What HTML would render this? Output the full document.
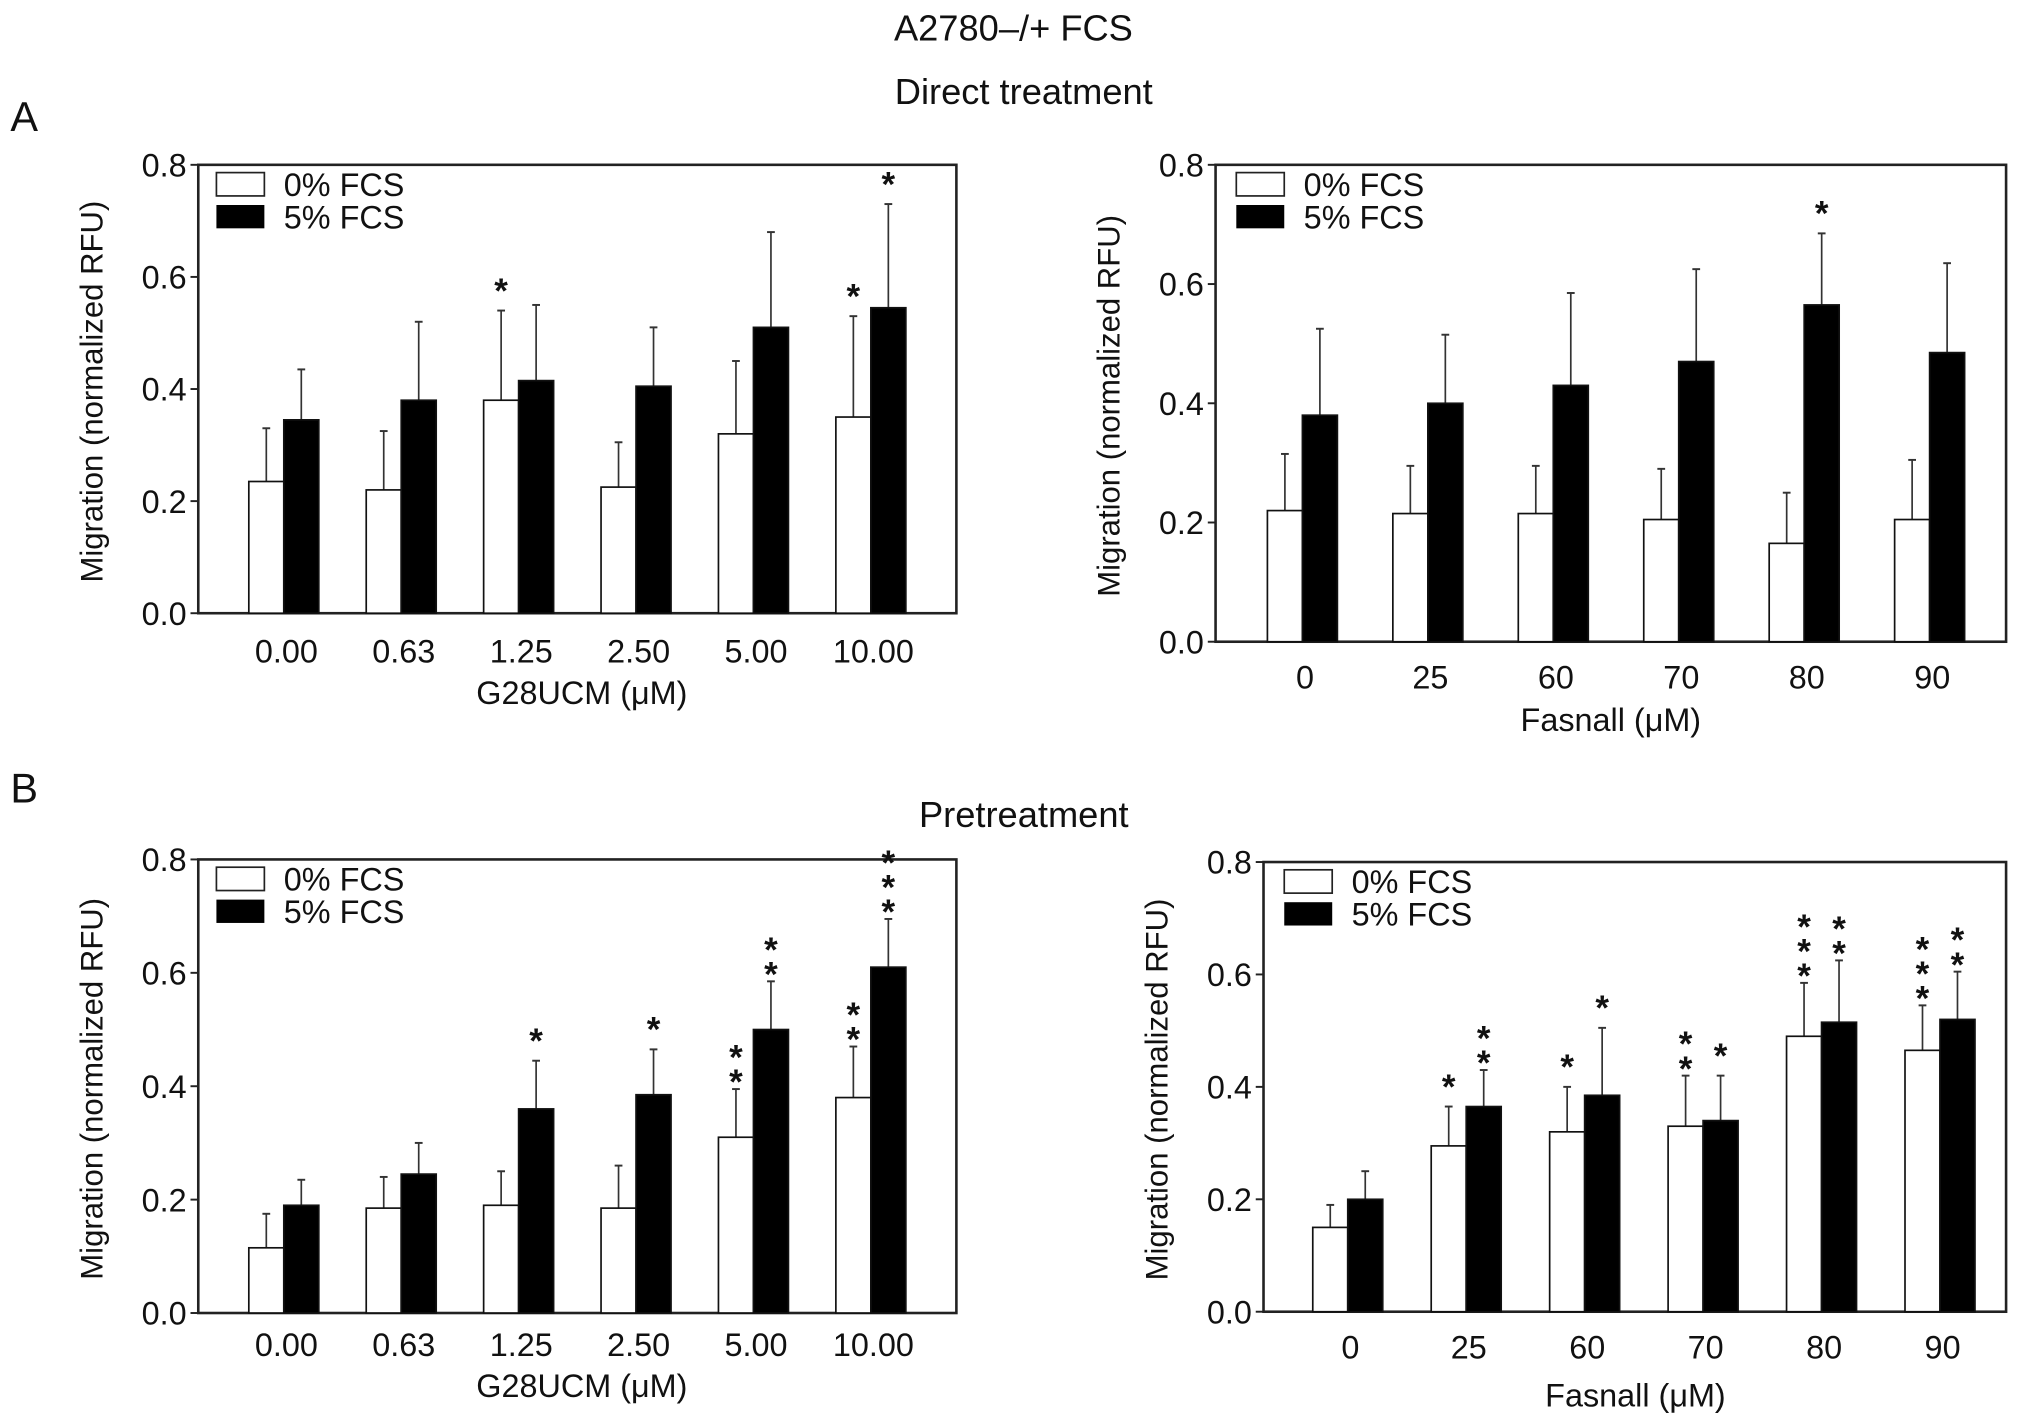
<!DOCTYPE html>
<html><head><meta charset="utf-8">
<style>
html,body{margin:0;padding:0;background:#fff;}
svg{display:block;}
text{font-family:"Liberation Sans",Arial,sans-serif;fill:#111;}
</style></head>
<body>
<svg id="fig" width="2032" height="1426" viewBox="0 0 1568 1100" xmlns="http://www.w3.org/2000/svg">
<text x="782" y="31" font-size="28" text-anchor="middle">A2780–/+ FCS</text>
<text x="790" y="80" font-size="28" text-anchor="middle">Direct treatment</text>
<text x="8" y="101" font-size="32">A</text>
<text x="8" y="619" font-size="32">B</text>
<text x="790" y="638" font-size="28" text-anchor="middle">Pretreatment</text>
</svg>
<script>
const catsG = ["0.00","0.63","1.25","2.50","5.00","10.00"];
const catsF = ["0","25","60","70","80","90"];
const yTicks = ["0.0","0.2","0.4","0.6","0.8"];
const aLeftWhite = [0.235,0.22,0.38,0.225,0.32,0.35];
const aLeftWhiteErr = [0.33,0.325,0.54,0.305,0.45,0.53];
const aLeftBlack = [0.345,0.38,0.415,0.405,0.51,0.545];
const aLeftBlackErr = [0.435,0.52,0.55,0.51,0.68,0.73];
const aLeftWhiteStars = [0,0,1,0,0,1];
const aLeftBlackStars = [0,0,0,0,0,1];
const aRightWhite = [0.22,0.215,0.215,0.205,0.165,0.205];
const aRightWhiteErr = [0.315,0.295,0.295,0.29,0.25,0.305];
const aRightBlack = [0.38,0.40,0.43,0.47,0.565,0.485];
const aRightBlackErr = [0.525,0.515,0.585,0.625,0.685,0.635];
const aRightWhiteStars = [0,0,0,0,0,0];
const aRightBlackStars = [0,0,0,0,1,0];
const bLeftWhite = [0.115,0.185,0.19,0.185,0.31,0.38];
const bLeftWhiteErr = [0.175,0.24,0.25,0.26,0.395,0.47];
const bLeftBlack = [0.19,0.245,0.36,0.385,0.50,0.61];
const bLeftBlackErr = [0.235,0.30,0.445,0.465,0.585,0.695];
const bLeftWhiteStars = [0,0,0,0,2,2];
const bLeftBlackStars = [0,0,1,1,2,3];
const bRightWhite = [0.15,0.295,0.32,0.33,0.49,0.465];
const bRightWhiteErr = [0.19,0.365,0.40,0.42,0.585,0.545];
const bRightBlack = [0.20,0.365,0.385,0.34,0.515,0.52];
const bRightBlackErr = [0.25,0.43,0.505,0.42,0.625,0.605];
const bRightWhiteStars = [0,1,1,2,3,3];
const bRightBlackStars = [0,2,1,1,2,2];

const NS="http://www.w3.org/2000/svg";
const svg=document.getElementById('fig');
function mk(tag,attrs,parent){const e=document.createElementNS(NS,tag);for(const k in attrs)e.setAttribute(k,attrs[k]);(parent||svg).appendChild(e);return e;}

function panel(id,cfg){
  const g=mk('g',{});
  
  
  const yS=v=>cfg.y0+(cfg.y1-cfg.y0)*(v/0.8);
  const xC=i=>cfg.c0+i*cfg.step;
  const fr=mk('rect',{x:cfg.x0,y:cfg.y1,width:cfg.x1-cfg.x0,height:cfg.y0-cfg.y1,fill:'none',stroke:'#222','stroke-width':2},g);
  
  
  yTicks.forEach(t=>{
    const y=yS(parseFloat(t));
    mk('line',{x1:cfg.x0-6,x2:cfg.x0,y1:y,y2:y,stroke:'#222','stroke-width':1.5},g);
    const tx=mk('text',{x:cfg.x0-9,y:y+9,'font-size':25,'text-anchor':'end'},g);
    tx.textContent=t;
    
    
  });
  const yt=mk('text',{x:0,y:0,'font-size':24,'text-anchor':'middle',transform:`translate(${cfg.x0-74},${(cfg.y0+cfg.y1)/2+2}) rotate(-90)`},g);
  yt.textContent='Migration (normalized RFU)';
  
  
  cfg.cats.forEach((c,i)=>{
    const t=mk('text',{x:xC(i)+2,y:cfg.labY,'font-size':25,'text-anchor':'middle'},g);
    t.textContent=c;
    
    
  });
  const xt=mk('text',{x:cfg.titleX,y:cfg.titleY,'font-size':25,'text-anchor':'middle'},g);
  xt.textContent=cfg.xtitle;
  
  
  const bw=27;
  function series(vals,errs,stars,off,fill,name){
    vals.forEach((v,i)=>{
      const x=xC(i)+off;
      const cx=x+bw/2;
      const ey=yS(errs[i]);
      mk('line',{x1:cx,x2:cx,y1:yS(v),y2:ey,stroke:'#333','stroke-width':1.3},g);
      mk('line',{x1:cx-3,x2:cx+3,y1:ey,y2:ey,stroke:'#333','stroke-width':1.5},g);
      const r=mk('rect',{x:x,y:yS(v),width:bw,height:cfg.y0-yS(v),fill:fill,stroke:'#111','stroke-width':1.3},g);
      
      
      for(let s=0;s<stars[i];s++){
        const st=mk('text',{x:cx,y:ey-6-s*19+(stars[i]>1?10:0),'font-size':27,'font-weight':'bold','text-anchor':'middle'},g);
        st.textContent='*';
        
        
      }
    });
  }
  series(cfg.w,cfg.we,cfg.ws,-bw,'#fff','bar-0pct-fcs');
  series(cfg.b,cfg.be,cfg.bs,0,'#000','bar-5pct-fcs');
  const lx=cfg.x0+cfg.legDx, ly=cfg.y1+6;
  const l1=mk('rect',{x:lx,y:ly,width:37,height:18,fill:'#fff',stroke:'#222','stroke-width':1.3},g);
  
  
  const l2=mk('rect',{x:lx,y:ly+25,width:37,height:18,fill:'#000'},g);
  
  
  const t1=mk('text',{x:lx+52,y:ly+18,'font-size':25},g);t1.textContent='0% FCS';
  
  
  const t2=mk('text',{x:lx+52,y:ly+43,'font-size':25},g);t2.textContent='5% FCS';
  
  
}
panel('panel-a-left-chart',{x0:153,x1:738,y0:473,y1:127,c0:219,step:90.6,cats:catsG,labY:511,xtitle:'G28UCM (μM)',titleX:449,titleY:543,legDx:14,
  w:aLeftWhite,we:aLeftWhiteErr,ws:aLeftWhiteStars,b:aLeftBlack,be:aLeftBlackErr,bs:aLeftBlackStars});
panel('panel-a-right-chart',{x0:938,x1:1548,y0:495,y1:127,c0:1005,step:96.8,cats:catsF,labY:531,xtitle:'Fasnall (μM)',titleX:1243,titleY:564,legDx:16,
  w:aRightWhite,we:aRightWhiteErr,ws:aRightWhiteStars,b:aRightBlack,be:aRightBlackErr,bs:aRightBlackStars});
panel('panel-b-left-chart',{x0:153,x1:738,y0:1013,y1:663,c0:219,step:90.6,cats:catsG,labY:1046,xtitle:'G28UCM (μM)',titleX:449,titleY:1078,legDx:14,
  w:bLeftWhite,we:bLeftWhiteErr,ws:bLeftWhiteStars,b:bLeftBlack,be:bLeftBlackErr,bs:bLeftBlackStars});
panel('panel-b-right-chart',{x0:975,x1:1548,y0:1012,y1:665,c0:1040,step:91.4,cats:catsF,labY:1048,xtitle:'Fasnall (μM)',titleX:1262,titleY:1085,legDx:16,
  w:bRightWhite,we:bRightWhiteErr,ws:bRightWhiteStars,b:bRightBlack,be:bRightBlackErr,bs:bRightBlackStars});
</script>
</body></html>
